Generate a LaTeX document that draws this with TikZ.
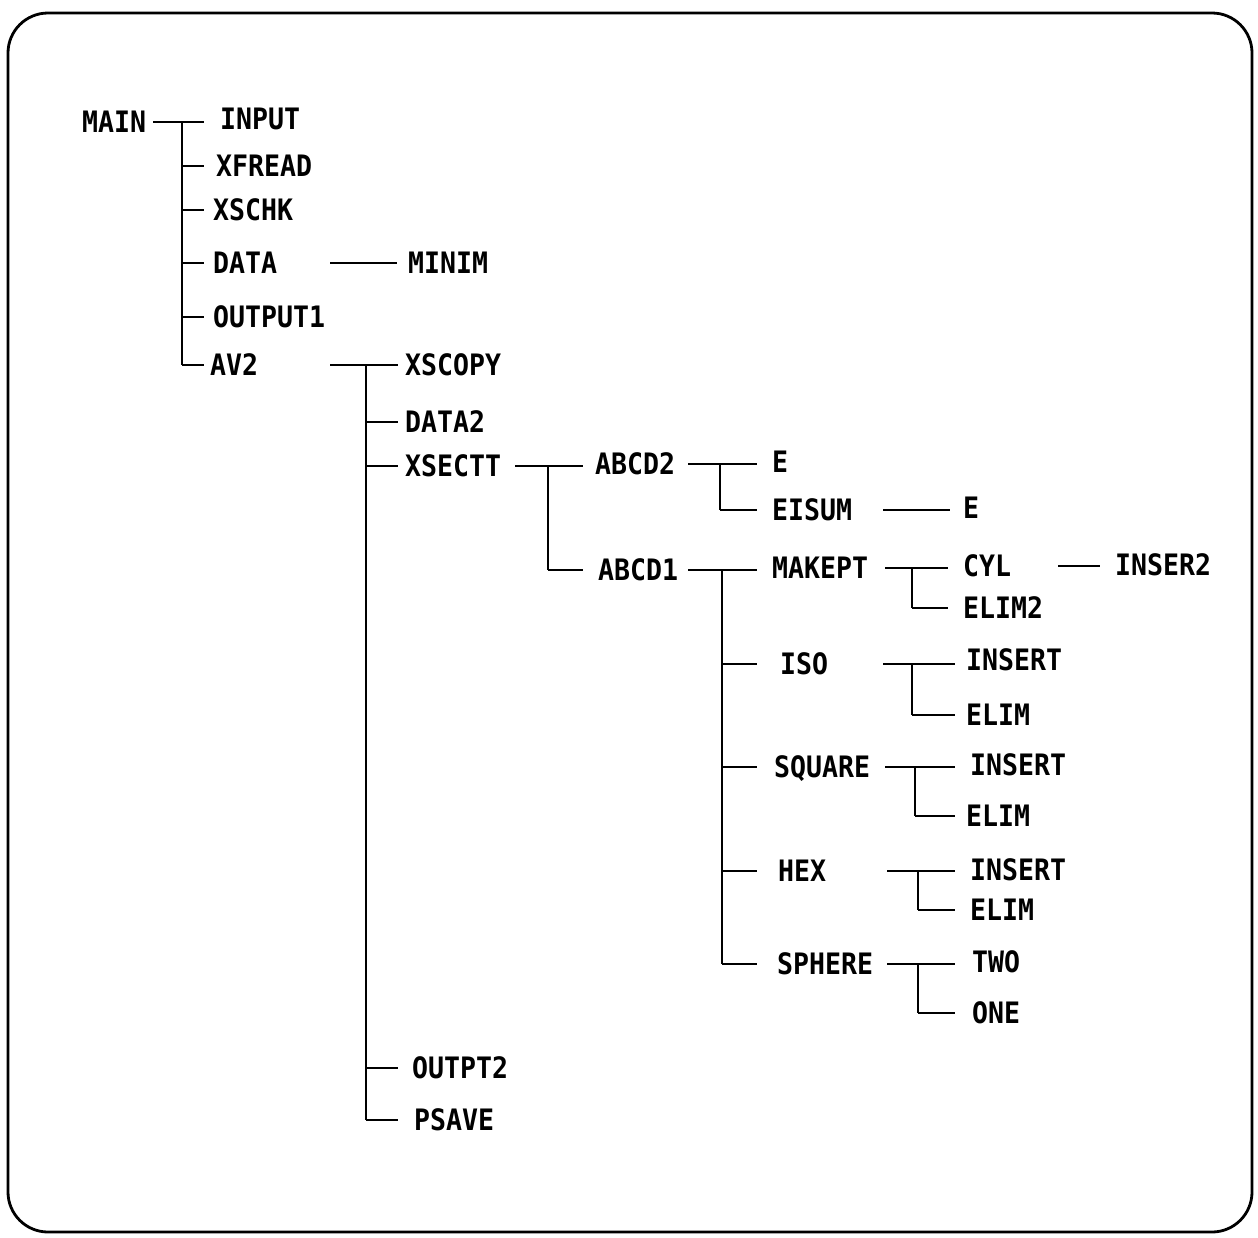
\documentclass[tikz,border=0pt]{standalone}
\usepackage{fontspec}
\setmonofont{DejaVu Sans Mono}[FakeStretch=0.9]
\newcommand\lblfont{\fontsize{29.5}{30}\selectfont\ttfamily\bfseries}
\newcommand\mybranch[5]{%
  \coordinate (bS) at (#2,0);
  \coordinate (bB) at (#3,0);
  \coordinate (bE) at (#4,0);
  \draw[ln] (bS |- #1.east) -- (bE |- #1.east);
  \foreach \c in {#5} {\draw[ln] (bB |- \c.west) -- (bE |- \c.west); \xdef\lastc{\c}}
  \draw[ln] (bB |- #1.east) -- (bB |- \lastc.west);
}
\newcommand\myline[4]{%
  \coordinate (bS) at (#3,0);
  \coordinate (bE) at (#4,0);
  \draw[ln] (bS |- #1.east) -- (bE |- #1.east);
}
\begin{document}
\begin{tikzpicture}[x=1pt,y=-1pt,
  lbl/.style={anchor=west,inner sep=0pt,font=\lblfont,text height=21pt,text depth=0pt},
  ln/.style={line width=2.8pt,line cap=butt},
  frame/.style={line width=2.8pt,rounded corners=40pt}]
\useasboundingbox (0,0) rectangle (1258,1237);
\draw[frame] (8,13) rectangle (1252,1232);
% level 0/1
\node[lbl] (main)    at (82,122)  {MAIN};
\node[lbl] (input)   at (220,119) {INPUT};
\node[lbl] (xfread)  at (216,166) {XFREAD};
\node[lbl] (xschk)   at (213,210) {XSCHK};
\node[lbl] (data)    at (213,263) {DATA};
\node[lbl] (minim)   at (408,263) {MINIM};
\node[lbl] (output1) at (213,317) {OUTPUT1};
\node[lbl] (av2)     at (210,365) {AV2};
% AV2 children
\node[lbl] (xscopy)  at (405,365) {XSCOPY};
\node[lbl] (data2)   at (405,422) {DATA2};
\node[lbl] (xsectt)  at (405,466) {XSECTT};
\node[lbl] (outpt2)  at (412,1068) {OUTPT2};
\node[lbl] (psave)   at (414,1120) {PSAVE};
% XSECTT children
\node[lbl] (abcd2)   at (595,464) {ABCD2};
\node[lbl] (abcd1)   at (598,570) {ABCD1};
% ABCD2 children
\node[lbl] (e1)      at (772,462) {E};
\node[lbl] (eisum)   at (772,510) {EISUM};
\node[lbl] (e2)      at (963,508) {E};
% ABCD1 children
\node[lbl] (makept)  at (772,568) {MAKEPT};
\node[lbl] (iso)     at (780,664) {ISO};
\node[lbl] (square)  at (774,767) {SQUARE};
\node[lbl] (hex)     at (778,871) {HEX};
\node[lbl] (sphere)  at (777,964) {SPHERE};
% MAKEPT children
\node[lbl] (cyl)     at (963,566) {CYL};
\node[lbl] (inser2)  at (1115,565) {INSER2};
\node[lbl] (elim2)   at (963,608) {ELIM2};
% ISO children
\node[lbl] (insert1) at (966,660) {INSERT};
\node[lbl] (elim1)   at (966,715) {ELIM};
% SQUARE children
\node[lbl] (insert2) at (970,765) {INSERT};
\node[lbl] (elim4)   at (966,816) {ELIM};
% HEX children
\node[lbl] (insert3) at (970,870) {INSERT};
\node[lbl] (elim3)   at (970,910) {ELIM};
% SPHERE children
\node[lbl] (two)     at (972,962) {TWO};
\node[lbl] (one)     at (972,1013) {ONE};
% connectors
\mybranch{main}{153}{182}{204}{xfread,xschk,data,output1,av2}
\myline{data}{minim}{330}{397}
\mybranch{av2}{330}{366}{398}{data2,xsectt,outpt2,psave}
\mybranch{xsectt}{515}{548}{583}{abcd1}
\mybranch{abcd2}{688}{720}{757}{eisum}
\myline{eisum}{e2}{883}{950}
\mybranch{abcd1}{688}{722}{757}{iso,square,hex,sphere}
\mybranch{makept}{885}{912}{948}{elim2}
\myline{cyl}{inser2}{1058}{1100}
\mybranch{iso}{883}{912}{955}{elim1}
\mybranch{square}{885}{915}{955}{elim4}
\mybranch{hex}{887}{918}{955}{elim3}
\mybranch{sphere}{887}{918}{955}{one}
\end{tikzpicture}
\end{document}
